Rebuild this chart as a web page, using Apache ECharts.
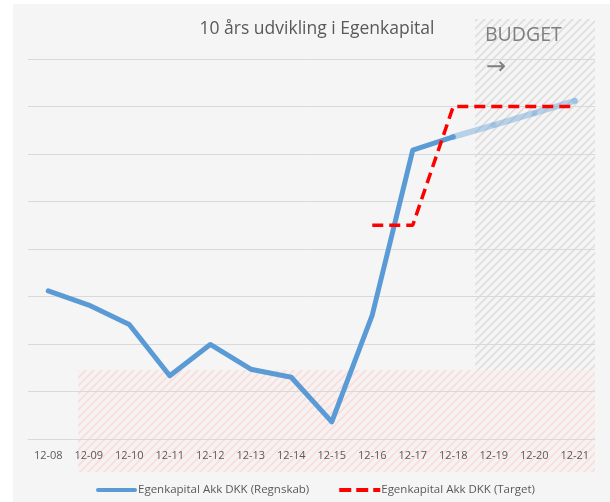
<!DOCTYPE html>
<html>
<head>
<meta charset="utf-8">
<script src="https://cdn.jsdelivr.net/npm/echarts@6/dist/echarts.min.js"></script>
<style>
    body { margin: 0; background: #ffffff; }
    #bg { position: absolute; left: 13px; top: 4px; width: 597px; height: 498px; background: #f5f5f5; }
    #chart { position: absolute; left: 0; top: 0; width: 610px; height: 502px; }
</style>
</head>
<body>
<div id="bg"></div>
<div id="chart"></div>
<script>
var years = ['12-08', '12-09', '12-10', '12-11', '12-12', '12-13', '12-14',
    '12-15', '12-16', '12-17', '12-18', '12-19', '12-20', '12-21'];
var regnskab = [3.12, 2.82, 2.41, 1.33, 1.99, 1.47, 1.30, 0.36, 2.61, 6.08, 6.36,
    null, null, null];
var budget = [null, null, null, null, null, null, null, null, null, null, 6.36,
    6.61, 6.86, 7.12];
var target = [null, null, null, null, null, null, null, null, 4.5, 4.5, 7.0,
    7.0, 7.0, 7.0];

var FONT = 'Open Sans';

function hatch(color, bg) {
    var c = document.createElement('canvas');
    c.width = 8;
    c.height = 8;
    var ctx = c.getContext('2d');
    ctx.fillStyle = bg;
    ctx.fillRect(0, 0, 8, 8);
    ctx.strokeStyle = color;
    ctx.lineWidth = 1.6;
    ctx.beginPath();
    ctx.moveTo(-2, 10); ctx.lineTo(10, -2);
    ctx.moveTo(-2, 2); ctx.lineTo(2, -2);
    ctx.moveTo(6, 10); ctx.lineTo(10, 6);
    ctx.stroke();
    return {image: c, repeat: 'repeat'};
}

// legend icons: solid rounded bar and three red dashes
var solidIcon = 'path://M2,0H39A2,2 0 0 1 39,4H2A2,2 0 0 1 2,0Z';
var dashIcon = 'path://M0,0H12V4H0Z M17,0H29V4H17Z M34,0H41V4H34Z';

var myChart = echarts.init(document.getElementById('chart'));
myChart.setOption({
    animation: false,
    title: {
        text: '10 års udvikling i Egenkapital',
        left: 312,
        textAlign: 'center',
        top: 15,
        textStyle: {fontFamily: FONT, fontSize: 17.5, fontWeight: 'normal', color: '#595959'}
    },
    graphic: [
        {type: 'rect', z: -10, shape: {x: 475, y: 19, width: 120, height: 351},
            style: {fill: hatch('#dedede', '#f5f5f5')}},
        {type: 'rect', z: -10, shape: {x: 78, y: 370, width: 517, height: 102},
            style: {fill: hatch('#f9dcdc', '#f6f2f2')}},
        {type: 'text', left: 485, top: 25,
            style: {text: 'BUDGET', fill: '#7f7f7f', fontFamily: FONT, fontSize: 19.5}},
        {type: 'text', left: 486, top: 56,
            style: {text: '→', fill: '#7f7f7f', fontFamily: 'DejaVu Sans', fontSize: 24}}
    ],
    legend: {
        data: [
            {name: 'Egenkapital Akk DKK (Regnskab)', icon: solidIcon},
            {name: 'Egenkapital Akk DKK (Target)', icon: dashIcon}
        ],
        left: 91,
        top: 479,
        itemWidth: 41,
        itemHeight: 4,
        itemGap: 30,
        textStyle: {fontFamily: FONT, fontSize: 11.5, color: '#595959', padding: [0, 0, 0, -4]}
    },
    grid: {left: 28, right: 15, top: 59, bottom: 63, containLabel: false},
    xAxis: {
        type: 'category',
        data: years,
        boundaryGap: true,
        axisLine: {lineStyle: {color: '#d9d9d9', width: 1}},
        axisTick: {show: false},
        axisLabel: {margin: 11, fontFamily: FONT, fontSize: 11, color: '#595959'}
    },
    yAxis: {
        type: 'value',
        min: 0,
        max: 8,
        interval: 1,
        axisLabel: {show: false},
        axisLine: {show: false},
        axisTick: {show: false},
        splitLine: {lineStyle: {color: '#d9d9d9', width: 1}}
    },
    series: [
        {
            name: 'Egenkapital Akk DKK (Regnskab)',
            type: 'line',
            data: regnskab,
            symbol: 'none',
            color: '#5b9bd5',
            lineStyle: {width: 5, color: '#5b9bd5', cap: 'round', join: 'round'},
            z: 3
        },
        {
            name: 'Budget',
            type: 'line',
            data: budget,
            symbol: 'circle',
            symbolSize: 6,
            showSymbol: true,
            itemStyle: {color: 'rgba(91,155,213,0.25)'},
            lineStyle: {width: 6, color: 'rgba(91,155,213,0.4)', cap: 'round', join: 'round'},
            z: 2
        },
        {
            name: 'Egenkapital Akk DKK (Target)',
            type: 'line',
            data: target,
            symbol: 'none',
            color: '#ff0000',
            lineStyle: {width: 3.5, color: '#ff0000', type: [11, 6]},
            z: 4
        }
    ]
});
</script>
</body>
</html>
